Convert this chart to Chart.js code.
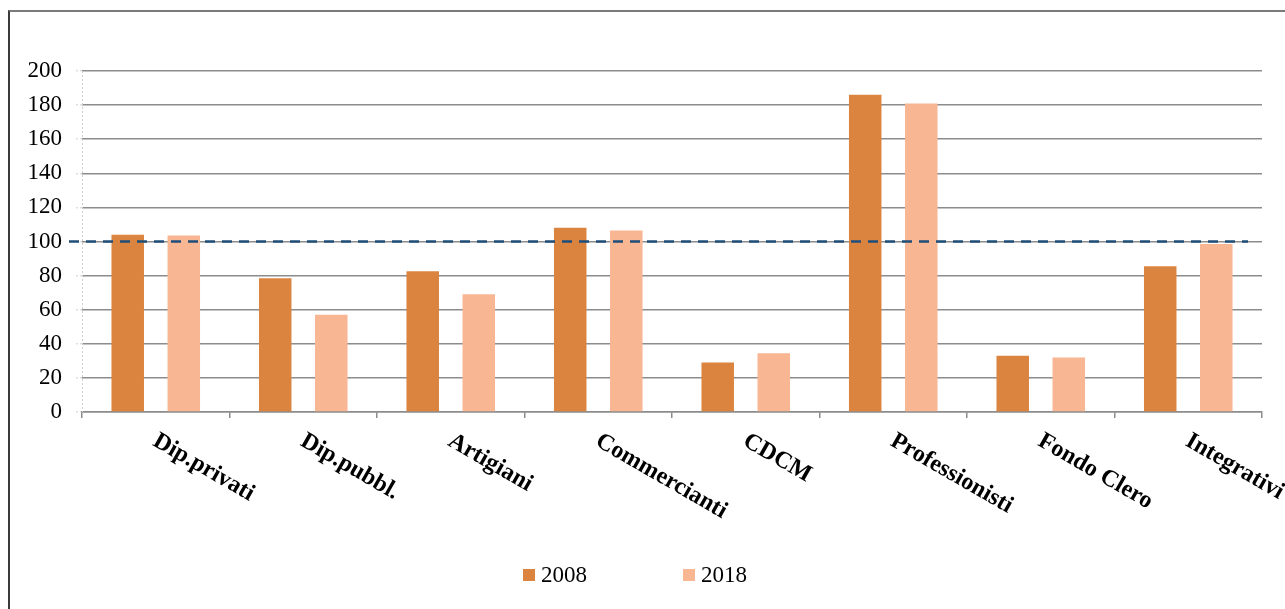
<!DOCTYPE html>
<html>
<head>
<meta charset="utf-8">
<script src="https://cdn.jsdelivr.net/npm/chart.js@4.4.1/dist/chart.umd.min.js"></script>
<style>
  html, body { margin: 0; padding: 0; background: #fff; }
  body { width: 1285px; height: 609px; position: relative; overflow: hidden; }
  #frame { position: absolute; left: 8px; top: 10px; width: 1300px; height: 620px;
           border-top: 2px solid #7a7a7a; border-left: 2px solid #3a3a3a; }
  #c { position: absolute; left: 0; top: 0; }
  .legend { position: absolute; top: 562px; font: 23px "Liberation Serif", "Times New Roman", serif; color: #000; }
  .legend span.box { display: inline-block; width: 12px; height: 12px; margin-right: 6px; vertical-align: 1px; }
</style>
</head>
<body>
<div id="frame"></div>
<canvas id="c" width="1285" height="609"></canvas>
<div class="legend" id="leg0" style="left:523px"></div>
<div class="legend" id="leg1" style="left:683px"></div>
<script>
const categories = ['Dip.privati', 'Dip.pubbl.', 'Artigiani', 'Commercianti', 'CDCM', 'Professionisti', 'Fondo Clero', 'Integrativi'];
const values2008 = [104, 78.5, 82.5, 108, 29, 186, 33, 85.5];
const values2018 = [103.5, 57, 69, 106.5, 34.5, 181, 32, 98.5];
const seriesNames = ['2008', '2018'];
const seriesColors = ['#DB843F', '#F8B692'];
const yTicks = { min: 0, max: 200, step: 20 };
const refLevel = 100;

const serif = '"Liberation Serif", "Times New Roman", serif';

// dotted y axis line (border.dash would also dash the grid lines)
const dottedAxis = {
    id: 'dottedAxis',
    beforeDatasetsDraw(chart) {
        const ctx = chart.ctx, area = chart.chartArea;
        ctx.save();
        ctx.strokeStyle = '#cfcfcf';
        ctx.lineWidth = 1;
        ctx.setLineDash([2, 2]);
        ctx.beginPath();
        ctx.moveTo(area.left + 0.5, area.top);
        ctx.lineTo(area.left + 0.5, area.bottom);
        ctx.stroke();
        ctx.restore();
    }
};

// category names drawn slanted downwards, starting under each category centre
const slantedLabels = {
    id: 'slantedLabels',
    afterDraw(chart) {
        const ctx = chart.ctx, x = chart.scales.x, y = chart.scales.y;
        const base = y.getPixelForValue(0);
        ctx.save();
        ctx.font = 'bold 24px ' + serif;
        ctx.fillStyle = '#000';
        ctx.textAlign = 'left';
        ctx.textBaseline = 'top';
        categories.forEach((name, i) => {
            ctx.save();
            ctx.translate(x.getPixelForValue(i) + 5, base + 17);
            ctx.rotate(30 * Math.PI / 180);
            ctx.fillText(name, 0, 0);
            ctx.restore();
        });
        ctx.restore();
    }
};

// dashed reference line at 100
const refLine = {
    id: 'refLine',
    afterDatasetsDraw(chart) {
        const ctx = chart.ctx, area = chart.chartArea;
        const py = chart.scales.y.getPixelForValue(refLevel);
        ctx.save();
        ctx.strokeStyle = '#1F4E79';
        ctx.lineWidth = 2.5;
        ctx.setLineDash([10, 7]);
        ctx.beginPath();
        ctx.moveTo(area.left - 13, py);
        ctx.lineTo(area.right - 14, py);
        ctx.stroke();
        ctx.restore();
    }
};

try {
    new Chart(document.getElementById('c'), {
        type: 'bar',
        data: {
            labels: categories,
            datasets: [
                { label: seriesNames[0], data: values2008, backgroundColor: seriesColors[0] },
                { label: seriesNames[1], data: values2018, backgroundColor: seriesColors[1] }
            ]
        },
        options: {
            responsive: false,
            animation: false,
            events: [],
            layout: { padding: { left: 0, top: 71, right: 23, bottom: 191 } },
            datasets: { bar: { categoryPercentage: 0.76, barPercentage: 0.58 } },
            plugins: { legend: { display: false }, tooltip: { enabled: false } },
            scales: {
                x: {
                    offset: true,
                    ticks: { display: false },
                    grid: { offset: true, drawOnChartArea: false, drawTicks: true, tickLength: 6, color: '#8c8c8c', lineWidth: 1.5 },
                    border: { color: '#8c8c8c', width: 1.5 },
                    afterFit(s) { s.height = 6; }
                },
                y: {
                    min: yTicks.min, max: yTicks.max,
                    ticks: { stepSize: yTicks.step, padding: 14, color: '#000', font: { family: serif, size: 23 } },
                    grid: { color: '#8c8c8c', lineWidth: 1.6, tickLength: 6, tickColor: '#cfcfcf', tickBorderDash: [2, 2], tickWidth: 1 },
                    border: { display: false },
                    afterFit(s) { s.width = 82; }
                }
            }
        },
        plugins: [dottedAxis, refLine, slantedLabels]
    });
} catch (e) { console.error('chart failed', e); }

seriesNames.forEach((name, i) => {
    const el = document.getElementById('leg' + i);
    el.innerHTML = '<span class="box" style="background:' + seriesColors[i] + '"></span>' + name;
});
</script>
</body>
</html>
